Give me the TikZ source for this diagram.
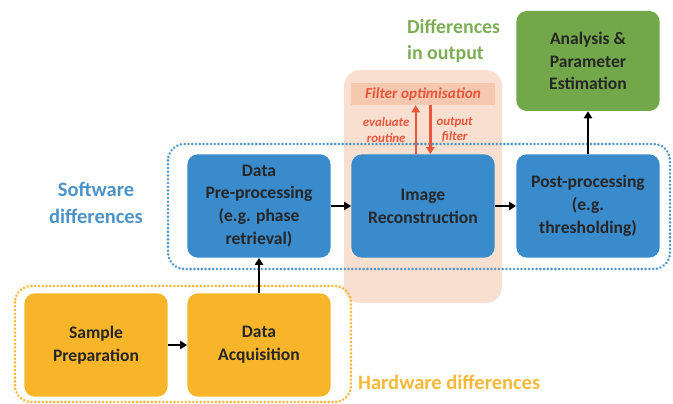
\documentclass[tikz,border=0pt]{standalone}
\usepackage{fontspec}
\setmainfont{Carlito}
\usetikzlibrary{arrows.meta}
\definecolor{boxblue}{HTML}{3A8BCB}
\definecolor{boxorange}{HTML}{F9B52A}
\definecolor{boxgreen}{HTML}{72A84A}
\definecolor{txtblue}{HTML}{4B93C9}
\definecolor{txtorange}{HTML}{F6B93A}
\definecolor{txtgreen}{HTML}{7DAE55}
\definecolor{peach}{HTML}{F9DFCF}
\definecolor{peachdark}{HTML}{F5C8AF}
\definecolor{filterred}{HTML}{E8553A}
\begin{document}
\begin{tikzpicture}[x=0.03cm, y=-0.03cm,
  every node/.style = {font=\bfseries\fontsize{15}{19.5}\selectfont, align=center},
  stage/.style = {rectangle, rounded corners=9pt, text=black!85,
    minimum width=4.3cm, minimum height=3.1cm},
  group/.style = {rounded corners=14pt, line width=2.4pt, dash pattern=on 0.01pt off 3.2pt, line cap=round},
  flow/.style = {-{Triangle[length=6pt,width=7pt]}, line width=2pt, black},
  filt/.style = {-{Triangle[length=6pt,width=7pt]}, line width=2pt, filterred}]
  \useasboundingbox (0,0) rectangle (673,404);
  % output region
  \fill[peach, rounded corners=14pt] (344,70) rectangle (502,303);
  \node[fill=peachdark, minimum width=4.3cm, minimum height=0.66cm,
    text=filterred, font=\bfseries\itshape\fontsize{13}{15}\selectfont]
    (filter) at (423,94) {Filter optimisation};
  % stages
  \node[stage, fill=boxorange] (sample) at (96,345) {Sample\\Preparation};
  \node[stage, fill=boxorange] (acq) at (259,345) {Data\\Acquisition};
  \node[stage, fill=boxblue] (pre) at (259,206) {Data\\Pre-processing\\(e.g. phase\\retrieval)};
  \node[stage, fill=boxblue] (recon) at (423,206) {Image\\Reconstruction};
  \node[stage, fill=boxblue] (post) at (588,206) {Post-processing\\(e.g.\\thresholding)};
  \node[stage, fill=boxgreen, minimum height=3cm] (ana) at (588,61) {Analysis \&\\Parameter\\Estimation};
  % groups
  \draw[group, boxorange] (15,286) rectangle (351,402);
  \draw[group, txtblue] (168,144) rectangle (670,269);
  % labels
  \node[text=txtblue, font=\bfseries\fontsize{17.5}{23}\selectfont] (sw) at (96,203) {Software\\differences};
  \node[text=txtorange, font=\bfseries\fontsize{17.5}{23}\selectfont, anchor=west] (hw) at (354,382) {Hardware differences};
  \node[text=txtgreen, font=\bfseries\fontsize{17}{22}\selectfont, align=left, anchor=west] (out) at (403,41) {Differences\\in output};
  % connectors
  \draw[flow] (sample) -- (acq);
  \draw[flow] (acq) -- (pre);
  \draw[flow] (pre) -- (recon);
  \draw[flow] (recon) -- (post);
  \draw[flow] (post) -- (ana);
  \draw[filt] ([xshift=-0.22cm]recon.north) -- node[left=1pt, text=filterred, font=\bfseries\itshape\fontsize{11}{13.5}\selectfont] {evaluate\\routine} ([xshift=-0.22cm]filter.south);
  \draw[filt] ([xshift=0.22cm]filter.south) -- node[right=1pt, text=filterred, font=\bfseries\itshape\fontsize{11}{13.5}\selectfont] {output\\filter} ([xshift=0.22cm]recon.north);
\end{tikzpicture}
\end{document}
